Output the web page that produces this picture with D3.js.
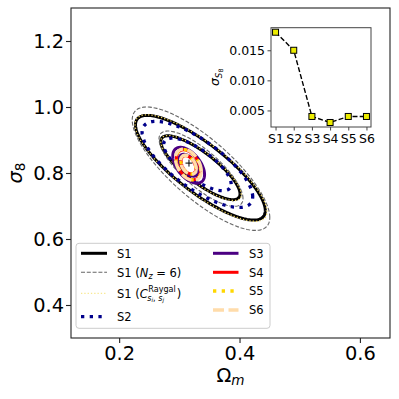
<!DOCTYPE html>
<html><head><meta charset="utf-8">
<script src="https://cdn.jsdelivr.net/npm/d3@7"></script>
<style>body{margin:0;background:#fff}svg{display:block}text{font-family:"DejaVu Sans",sans-serif;fill:#000}</style>
</head><body><svg id="c" width="399" height="399"></svg>
<script>
// ---- data ----
const contourSeries = ["S1", "S1 (Nz=6)", "S1 (Raygal)", "S2", "S3", "S4", "S5", "S6"];
const centerOmegaM = [0.335, 0.336, 0.336, 0.330, 0.3155, 0.315, 0.315, 0.315];
const centerSigma8 = [0.816, 0.813, 0.815, 0.826, 0.8235, 0.825, 0.825, 0.825];
const sigmaOmegaM = [0.0433, 0.0459, 0.0440, 0.0369, 0.0106, 0.0080, 0.0082, 0.0086];
const sigmaSigma8 = [0.0637, 0.0751, 0.0648, 0.0524, 0.0218, 0.0182, 0.0185, 0.0190];
const correlation = [-0.82, -0.79, -0.82, -0.75, -0.52, -0.40, -0.40, -0.40];
const contourLevels = [1.52, 2.49];
const fiducialOmegaM = 0.316;
const fiducialSigma8 = 0.830;
const xTicks = [0.2, 0.4, 0.6];
const yTicks = [0.4, 0.6, 0.8, 1.0, 1.2];
const insetCategories = ["S1", "S2", "S3", "S4", "S5", "S6"];
const insetSigmaS8 = [0.018, 0.015, 0.004, 0.003, 0.004, 0.004];
const insetYTicks = [0.005, 0.010, 0.015];

// ---- styles ----
const styles = [
  {stroke: "#000", w: 3, dash: null},
  {stroke: "#666", w: 1.1, dash: "4,1.8"},
  {stroke: "#eed460", w: 1.3, dash: "1.3,2"},
  {stroke: "#00008b", w: 3.3, dash: "3.3,5.4"},
  {stroke: "#4b0082", w: 3, dash: null},
  {stroke: "#ff0000", w: 3, dash: null},
  {stroke: "#ffd700", w: 3.3, dash: "3.3,5.4"},
  {stroke: "#ffdcaa", w: 3.3, dash: "11,4.5"}
];

const svg = d3.select("#c");
const L = 71, T = 8, R = 390, B = 338;
const x = d3.scaleLinear().domain([0.12, 0.65]).range([L, R]);
const y = d3.scaleLinear().domain([0.3, 1.3]).range([B, T]);

svg.append("defs").append("clipPath").attr("id", "clip")
  .append("rect").attr("x", L).attr("y", T).attr("width", R - L).attr("height", B - T);

// contours
const gC = svg.append("g").attr("clip-path", "url(#clip)");
const angles = d3.range(0, 181).map(i => 2 * Math.PI * i / 180);
const line = d3.line().x(d => x(d[0])).y(d => y(d[1]));
contourSeries.forEach((name, i) => {
  contourLevels.forEach(k => {
    const r = correlation[i];
    const pts = angles.map(t => [
      centerOmegaM[i] + k * sigmaOmegaM[i] * Math.cos(t),
      centerSigma8[i] + k * sigmaSigma8[i] * (r * Math.cos(t) + Math.sqrt(1 - r * r) * Math.sin(t))
    ]);
    const st = styles[i];
    gC.append("path").attr("d", line(pts)).attr("fill", "none")
      .attr("stroke", st.stroke).attr("stroke-width", st.w)
      .attr("stroke-dasharray", st.dash).attr("stroke-linejoin", "round");
  });
});
// fiducial cross
svg.append("path")
  .attr("d", `M${x(fiducialOmegaM)-3.5},${y(fiducialSigma8)}h7M${x(fiducialOmegaM)},${y(fiducialSigma8)-3.5}v7`)
  .attr("stroke", "#000").attr("stroke-width", 1);

// axes
const fs = 19.4;
const ax = svg.append("g").attr("transform", `translate(0,${B})`)
  .call(d3.axisBottom(x).tickValues(xTicks).tickFormat(d3.format(".1f")).tickSize(5).tickPadding(3.2));
const ay = svg.append("g").attr("transform", `translate(${L},0)`)
  .call(d3.axisLeft(y).tickValues(yTicks).tickFormat(d3.format(".1f")).tickSize(5).tickPadding(2));
[ax, ay].forEach(g => {
  g.select(".domain").remove();
  g.selectAll("text").attr("font-size", fs).attr("font-family", "DejaVu Sans").attr("fill", "#000");
  g.selectAll("line").attr("stroke", "#222").attr("stroke-width", 1.1);
});
svg.append("rect").attr("x", L).attr("y", T).attr("width", R - L).attr("height", B - T)
  .attr("fill", "none").attr("stroke", "#222").attr("stroke-width", 1.1);

// axis labels
const xl = svg.append("text").attr("x", (L + R) / 2).attr("y", 381.7).attr("text-anchor", "middle").attr("font-size", fs);
xl.append("tspan").text("Ω");
xl.append("tspan").attr("font-style", "italic").attr("font-size", fs * 0.7).attr("dy", 3).text("m");
const yl = svg.append("text").attr("transform", `translate(22,${(T + B) / 2}) rotate(-90)`).attr("text-anchor", "middle").attr("font-size", fs);
yl.append("tspan").attr("font-style", "italic").text("σ");
yl.append("tspan").attr("font-size", fs * 0.7).attr("dy", 3).text("8");

// legend
const lg = svg.append("g");
lg.append("rect").attr("x", 76).attr("y", 243.3).attr("width", 194).attr("height", 85)
  .attr("rx", 3).attr("fill", "#fff").attr("fill-opacity", 0.8).attr("stroke", "#ccc").attr("stroke-width", 1);
const rowY = [[253.3, 272.3, 293.3, 316.7], [253.3, 272.3, 291, 310]];
const colX = [[81, 107, 117], [213, 238.5, 249]];
const lfs = 11.5;
contourSeries.forEach((name, i) => {
  const c = i < 4 ? 0 : 1, r = i % 4;
  const yy = rowY[c][r], st = styles[i];
  lg.append("line").attr("x1", colX[c][0]).attr("x2", colX[c][1]).attr("y1", yy).attr("y2", yy)
    .attr("stroke", i === 2 ? "#f8e890" : st.stroke).attr("stroke-width", st.w).attr("stroke-dasharray", st.dash);
  const tx = colX[c][2], ty = yy + 4.2;
  if (i === 1) {
    const t = lg.append("text").attr("x", tx).attr("y", ty).attr("font-size", lfs);
    t.append("tspan").text("S1 (");
    t.append("tspan").attr("font-style", "italic").text("N");
    t.append("tspan").attr("font-style", "italic").attr("font-size", lfs * 0.7).attr("dy", 2.5).text("z");
    t.append("tspan").attr("dy", -2.5).text(" = 6)");
  } else if (i === 2) {
    const t = lg.append("text").attr("x", tx).attr("y", ty).attr("font-size", lfs);
    t.append("tspan").text("S1 (");
    t.append("tspan").attr("font-style", "italic").text("C");
    const w0 = t.node().getComputedTextLength();
    const sup = lg.append("text").attr("x", tx + w0 + 0.5).attr("y", ty - 5.5).attr("font-size", lfs * 0.7).text("Raygal");
    const sub = lg.append("text").attr("x", tx + w0 - 0.5).attr("y", ty + 3.2).attr("font-size", lfs * 0.7);
    sub.append("tspan").attr("font-style", "italic").text("s");
    sub.append("tspan").attr("font-style", "italic").attr("font-size", lfs * 0.5).attr("dy", 1.5).text("i");
    sub.append("tspan").attr("dy", -1.5).text(", ");
    sub.append("tspan").attr("font-style", "italic").text("s");
    sub.append("tspan").attr("font-style", "italic").attr("font-size", lfs * 0.5).attr("dy", 1.5).text("j");
    const w1 = Math.max(sup.node().getComputedTextLength(), sub.node().getComputedTextLength());
    lg.append("text").attr("x", tx + w0 + w1 + 1.5).attr("y", ty).attr("font-size", lfs).text(")");
  } else {
    lg.append("text").attr("x", tx).attr("y", ty).attr("font-size", lfs).text(name);
  }
});

// inset
const iL = 271, iR = 371, iT = 27.7, iB = 127;
const ix = d3.scalePoint().domain(insetCategories).range([iL, iR]).padding(0.25);
const iy = d3.scaleLinear().domain([0.00225, 0.01875]).range([iB, iT]);
svg.append("rect").attr("x", iL).attr("y", iT).attr("width", iR - iL).attr("height", iB - iT)
  .attr("fill", "#fff").attr("stroke", "#444").attr("stroke-width", 1);
const ifs = 12.5;
const iax = svg.append("g").attr("transform", `translate(0,${iB})`)
  .call(d3.axisBottom(ix).tickSize(3.5).tickPadding(3.4));
const iay = svg.append("g").attr("transform", `translate(${iL},0)`)
  .call(d3.axisLeft(iy).tickValues(insetYTicks).tickFormat(d3.format(".3f")).tickSize(3.5).tickPadding(2.5));
[iax, iay].forEach(g => {
  g.select(".domain").remove();
  g.selectAll("text").attr("font-size", ifs).attr("font-family", "DejaVu Sans").attr("fill", "#000");
  g.selectAll("line").attr("stroke", "#444").attr("stroke-width", 1);
});
svg.append("path").datum(insetSigmaS8.map((v, i) => [insetCategories[i], v]))
  .attr("d", d3.line().x(d => ix(d[0])).y(d => iy(d[1])))
  .attr("fill", "none").attr("stroke", "#000").attr("stroke-width", 1.4).attr("stroke-dasharray", "5,2.2");
svg.selectAll("rect.mk").data(insetSigmaS8).enter().append("rect").attr("class", "mk")
  .attr("x", (d, i) => ix(insetCategories[i]) - 3).attr("y", d => iy(d) - 3)
  .attr("width", 6).attr("height", 6).attr("fill", "#ecec00").attr("stroke", "#000").attr("stroke-width", 1);
const iyl = svg.append("text").attr("transform", `translate(219,${(iT + iB) / 2}) rotate(-90)`).attr("text-anchor", "middle").attr("font-size", ifs);
iyl.append("tspan").attr("font-style", "italic").text("σ");
iyl.append("tspan").attr("font-style", "italic").attr("font-size", ifs * 0.7).attr("dy", 2.5).text("S");
iyl.append("tspan").attr("font-size", ifs * 0.5).attr("dy", 1.5).text("8");
</script></body></html>
